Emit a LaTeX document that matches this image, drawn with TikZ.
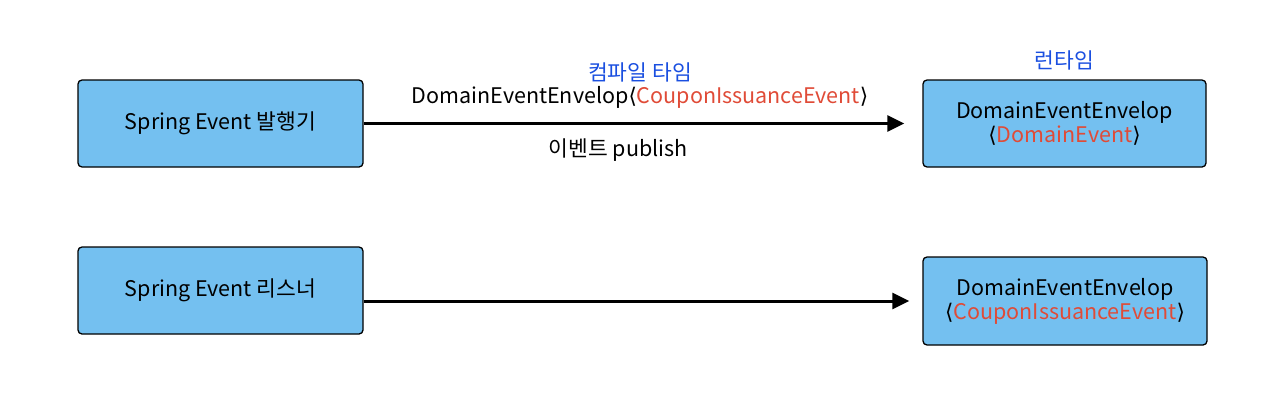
\documentclass[tikz,border=0pt]{standalone}
\usepackage{fontspec}
\setmainfont{Noto Sans CJK KR}
\newfontfamily\symfont{DejaVu Sans}
\usetikzlibrary{arrows.meta,positioning}
\definecolor{boxblue}{HTML}{74C0F0}
\definecolor{lblblue}{HTML}{1A4FE0}
\definecolor{typered}{HTML}{E04B37}
\newcommand{\lt}{{\symfont ⟨}}
\newcommand{\gt}{{\symfont ⟩}}
\begin{document}
\begin{tikzpicture}[x=1pt,y=-1pt,
		box/.style={draw,rounded corners=4pt,fill=boxblue,line width=1.3pt,minimum width=285pt,minimum height=87pt,align=center,font=\fontsize{21.5}{24}\selectfont},
		flow/.style={-{Triangle[length=17pt,width=16pt]},line width=3pt},
		lbl/.style={font=\fontsize{21.5}{24}\selectfont,inner sep=0pt}]
	\useasboundingbox (0,0) rectangle (1280,402);
	\node [box] (pub) at (220.5,123.5) {Spring Event 발행기};
	\node [box] (lis) at (220.5,290.5) {Spring Event 리스너};
	\node [box,minimum width=283pt] (rtA) at (1064.5,123.5) {DomainEventEnvelop\\\lt\textcolor{typered}{DomainEvent}\gt};
	\node [box,minimum width=284pt,minimum height=88pt] (rtB) at (1065,301) {DomainEventEnvelop\\\lt\textcolor{typered}{CouponIssuanceEvent}\gt};
	% compile time vs runtime
	\draw [flow,shorten >=18pt] (pub.east) -- (rtA.west);
	\draw [flow,shorten >=13pt] (lis.east |- rtB.west) -- (rtB.west);
	\node [lbl] (sig) at (640,97) {DomainEventEnvelop\lt\textcolor{typered}{CouponIssuanceEvent}\gt};
	\node [lbl,text=lblblue,above=25pt of sig.center,anchor=center] (ct) {컴파일 타임};
	\node [lbl] (pubtxt) at (618,150) {이벤트 publish};
	\node [lbl,text=lblblue,above=19pt of rtA.north,anchor=center] (rt) {런타임};
\end{tikzpicture}
\end{document}
